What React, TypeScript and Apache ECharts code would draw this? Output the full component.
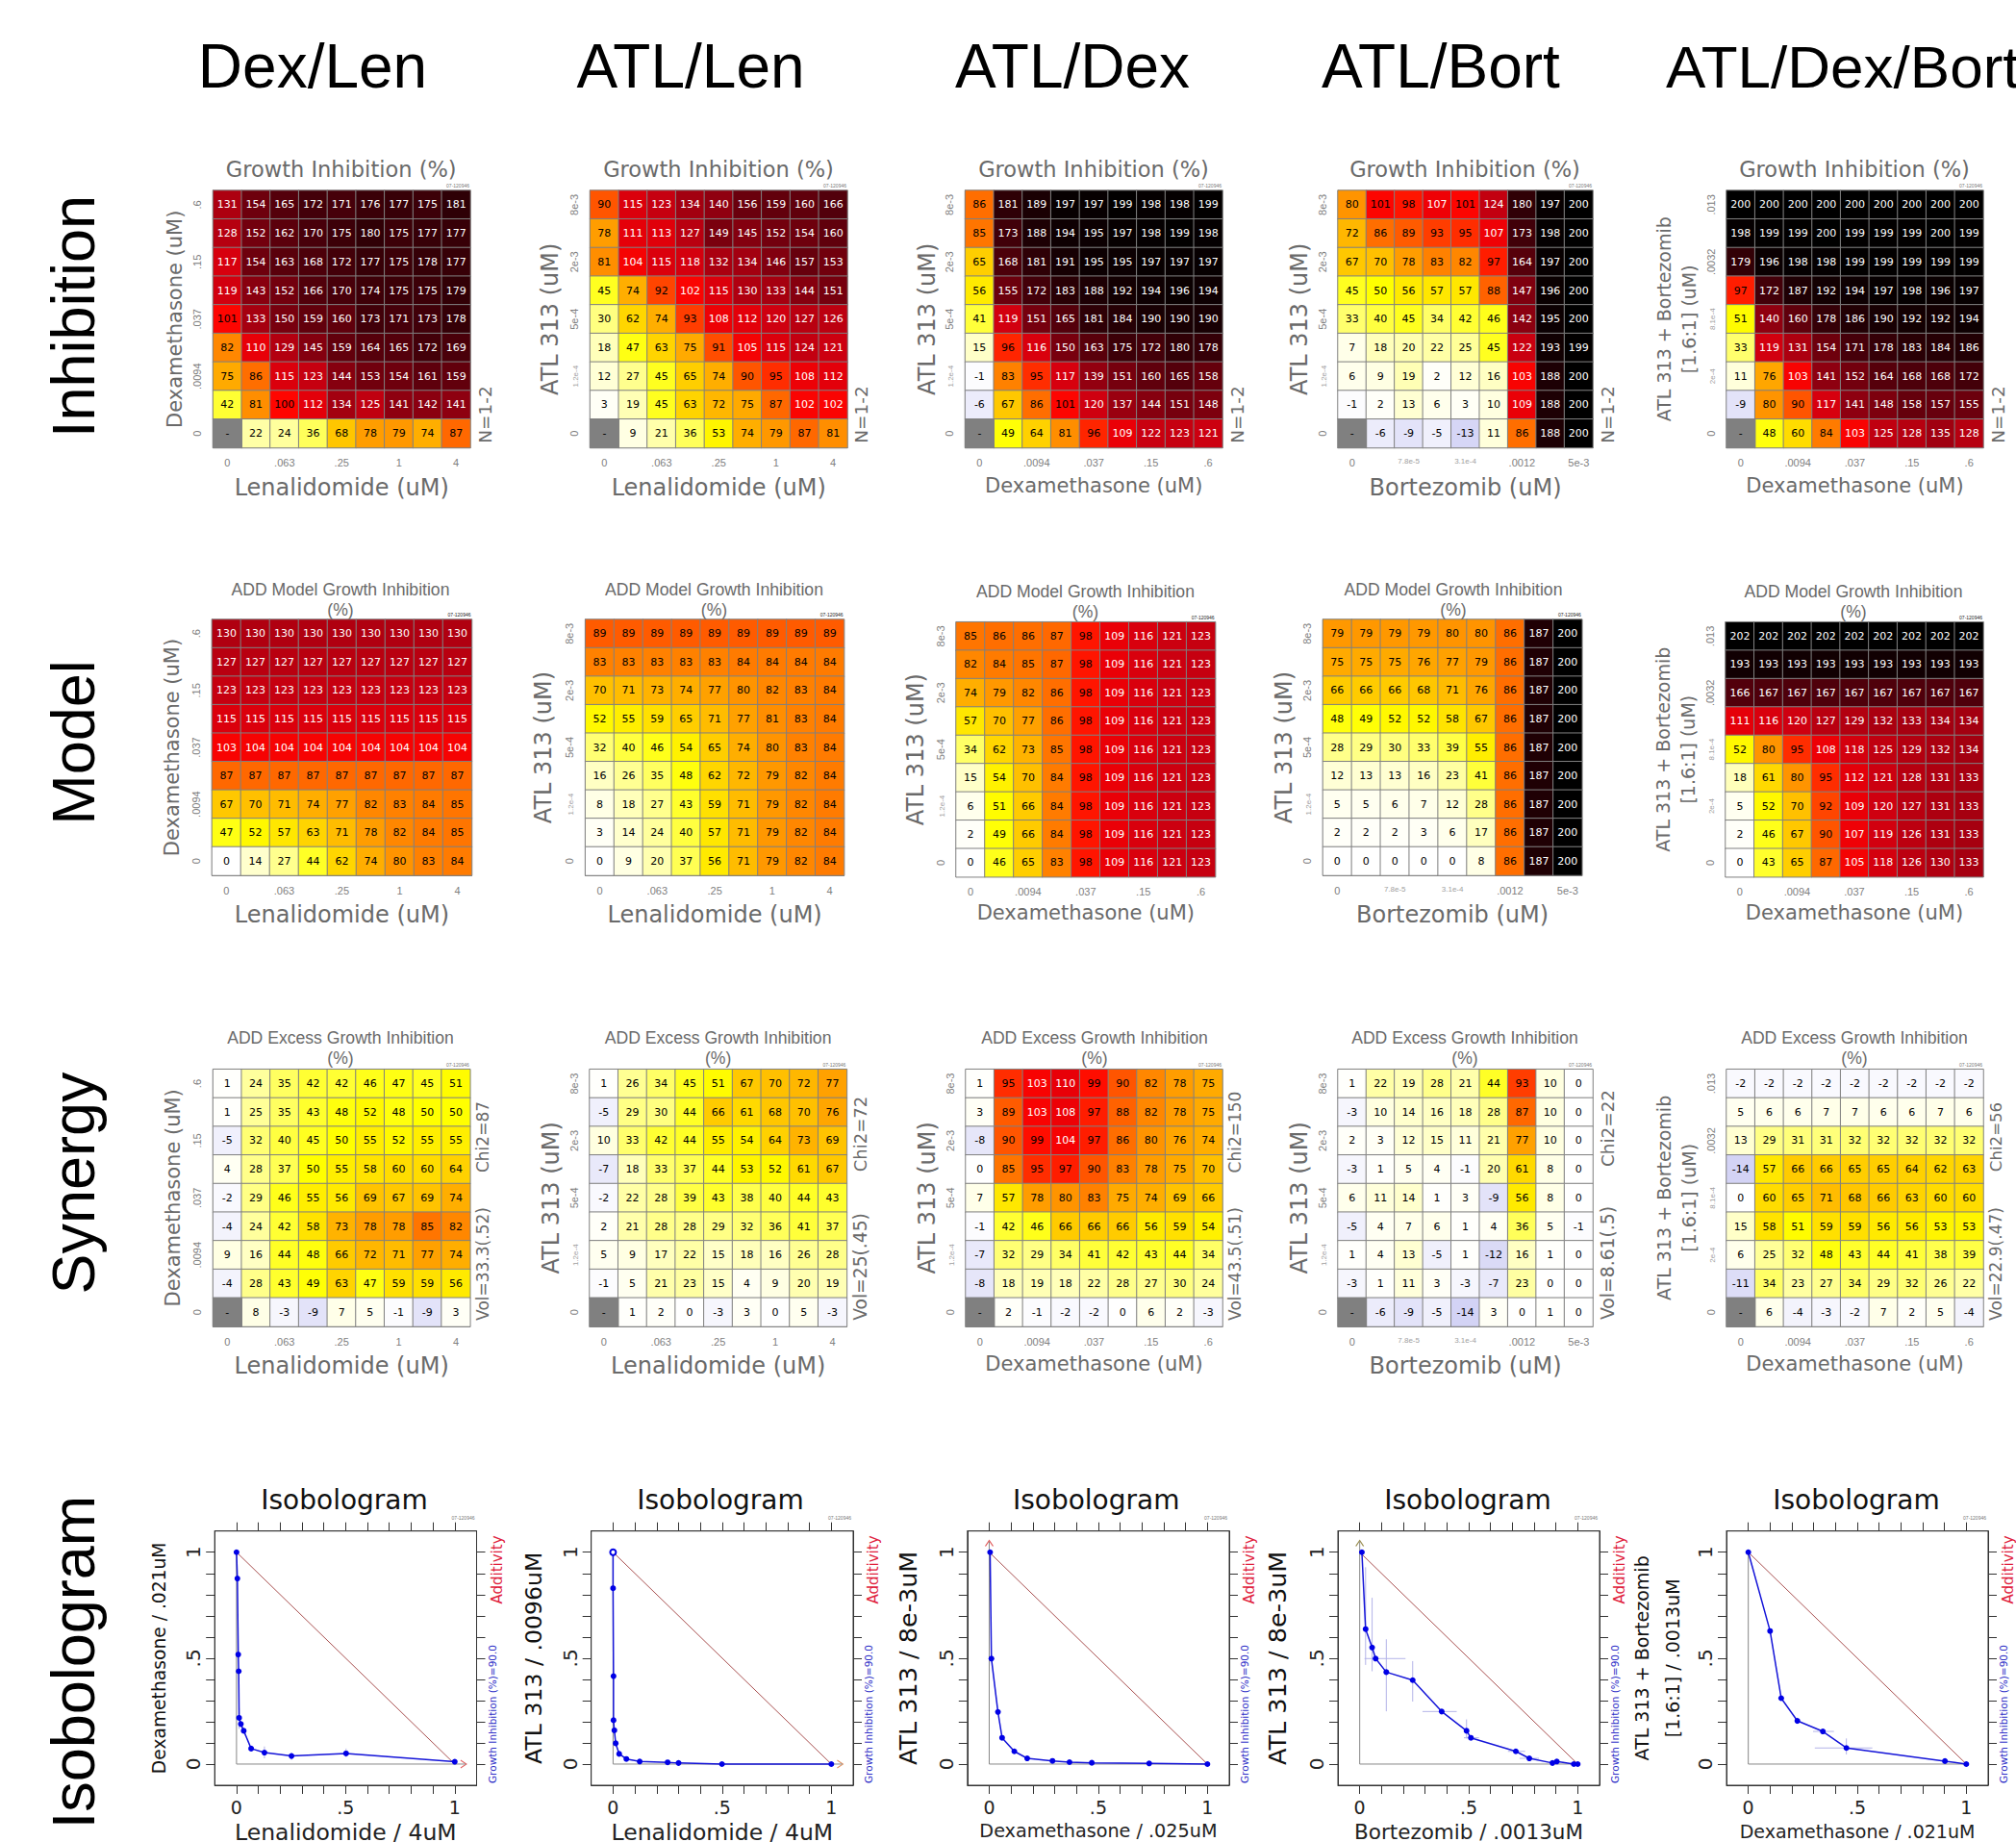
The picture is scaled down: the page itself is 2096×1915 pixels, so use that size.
import React, { useEffect, useRef } from "react";
import * as echarts from "echarts";

// ---------- labels ----------
const columnTitles = ["Dex/Len", "ATL/Len", "ATL/Dex", "ATL/Bort", "ATL/Dex/Bort"];
const rowTitles = ["Inhibition", "Model", "Synergy", "Isobologram"];
const xDrugNames = ["Lenalidomide (uM)", "Lenalidomide (uM)", "Dexamethasone (uM)", "Bortezomib (uM)", "Dexamethasone (uM)"];
const yDrugNames = ["Dexamethasone (uM)", "ATL 313 (uM)", "ATL 313 (uM)", "ATL 313 (uM)", "ATL 313 + Bortezomib\n[1.6:1] (uM)"];
const lenTicks = ["0", "", ".063", "", ".25", "", "1", "", "4"];
const dexTicks = ["0", "", ".0094", "", ".037", "", ".15", "", ".6"];
const atlTicks = ["0", "", "1.2e-4", "", "5e-4", "", "2e-3", "", "8e-3"];
const bortTicks = ["0", "", "7.8e-5", "", "3.1e-4", "", ".0012", "", "5e-3"];
const comboTicks = ["0", "", "2e-4", "", "8.1e-4", "", ".0032", "", ".013"];
const xTicks = [lenTicks, lenTicks, dexTicks, bortTicks, dexTicks];
const yTicks = [dexTicks, atlTicks, atlTicks, atlTicks, comboTicks];
const synergyNotes = [
  ["Chi2=87", "Vol=33.3(.52)"],
  ["Chi2=72", "Vol=25(.45)"],
  ["Chi2=150", "Vol=43.5(.51)"],
  ["Chi2=22", "Vol=8.61(.5)"],
  ["Chi2=56", "Vol=22.9(.47)"],
];
const isoXNames = ["Lenalidomide / 4uM", "Lenalidomide / 4uM", "Dexamethasone / .025uM", "Bortezomib / .0013uM", "Dexamethasone / .021uM"];
const isoYNames = ["Dexamethasone / .021uM", "ATL 313 / .0096uM", "ATL 313 / 8e-3uM", "ATL 313 / 8e-3uM", "ATL 313 + Bortezomib\n[1.6:1] / .0013uM"];

// ---------- heat map values, top row first ("-" = no value) ----------
const M = "-";
const inhibitionDexLen = [
  [131, 154, 165, 172, 171, 176, 177, 175, 181],
  [128, 152, 162, 170, 175, 180, 175, 177, 177],
  [117, 154, 163, 168, 172, 177, 175, 178, 177],
  [119, 143, 152, 166, 170, 174, 175, 175, 179],
  [101, 133, 150, 159, 160, 173, 171, 173, 178],
  [82, 110, 129, 145, 159, 164, 165, 172, 169],
  [75, 86, 115, 123, 144, 153, 154, 161, 159],
  [42, 81, 100, 112, 134, 125, 141, 142, 141],
  [M, 22, 24, 36, 68, 78, 79, 74, 87],
];
const inhibitionAtlLen = [
  [90, 115, 123, 134, 140, 156, 159, 160, 166],
  [78, 111, 113, 127, 149, 145, 152, 154, 160],
  [81, 104, 115, 118, 132, 134, 146, 157, 153],
  [45, 74, 92, 102, 115, 130, 133, 144, 151],
  [30, 62, 74, 93, 108, 112, 120, 127, 126],
  [18, 47, 63, 75, 91, 105, 115, 124, 121],
  [12, 27, 45, 65, 74, 90, 95, 108, 112],
  [3, 19, 45, 63, 72, 75, 87, 102, 102],
  [M, 9, 21, 36, 53, 74, 79, 87, 81],
];
const inhibitionAtlDex = [
  [86, 181, 189, 197, 197, 199, 198, 198, 199],
  [85, 173, 188, 194, 195, 197, 198, 199, 198],
  [65, 168, 181, 191, 195, 195, 197, 197, 197],
  [56, 155, 172, 183, 188, 192, 194, 196, 194],
  [41, 119, 151, 165, 181, 184, 190, 190, 190],
  [15, 96, 116, 150, 163, 175, 172, 180, 178],
  [-1, 83, 95, 117, 139, 151, 160, 165, 158],
  [-6, 67, 86, 101, 120, 137, 144, 151, 148],
  [M, 49, 64, 81, 96, 109, 122, 123, 121],
];
const inhibitionAtlBort = [
  [80, 101, 98, 107, 101, 124, 180, 197, 200],
  [72, 86, 89, 93, 95, 107, 173, 198, 200],
  [67, 70, 78, 83, 82, 97, 164, 197, 200],
  [45, 50, 56, 57, 57, 88, 147, 196, 200],
  [33, 40, 45, 34, 42, 46, 142, 195, 200],
  [7, 18, 20, 22, 25, 45, 122, 193, 199],
  [6, 9, 19, 2, 12, 16, 103, 188, 200],
  [-1, 2, 13, 6, 3, 10, 109, 188, 200],
  [M, -6, -9, -5, -13, 11, 86, 188, 200],
];
const inhibitionCombo = [
  [200, 200, 200, 200, 200, 200, 200, 200, 200],
  [198, 199, 199, 200, 199, 199, 199, 200, 199],
  [179, 196, 198, 198, 199, 199, 199, 199, 199],
  [97, 172, 187, 192, 194, 197, 198, 196, 197],
  [51, 140, 160, 178, 186, 190, 192, 192, 194],
  [33, 119, 131, 154, 171, 178, 183, 184, 186],
  [11, 76, 103, 141, 152, 164, 168, 168, 172],
  [-9, 80, 90, 117, 141, 148, 158, 157, 155],
  [M, 48, 60, 84, 103, 125, 128, 135, 128],
];
const modelDexLen = [
  [130, 130, 130, 130, 130, 130, 130, 130, 130],
  [127, 127, 127, 127, 127, 127, 127, 127, 127],
  [123, 123, 123, 123, 123, 123, 123, 123, 123],
  [115, 115, 115, 115, 115, 115, 115, 115, 115],
  [103, 104, 104, 104, 104, 104, 104, 104, 104],
  [87, 87, 87, 87, 87, 87, 87, 87, 87],
  [67, 70, 71, 74, 77, 82, 83, 84, 85],
  [47, 52, 57, 63, 71, 78, 82, 84, 85],
  [0, 14, 27, 44, 62, 74, 80, 83, 84],
];
const modelAtlLen = [
  [89, 89, 89, 89, 89, 89, 89, 89, 89],
  [83, 83, 83, 83, 83, 84, 84, 84, 84],
  [70, 71, 73, 74, 77, 80, 82, 83, 84],
  [52, 55, 59, 65, 71, 77, 81, 83, 84],
  [32, 40, 46, 54, 65, 74, 80, 83, 84],
  [16, 26, 35, 48, 62, 72, 79, 82, 84],
  [8, 18, 27, 43, 59, 71, 79, 82, 84],
  [3, 14, 24, 40, 57, 71, 79, 82, 84],
  [0, 9, 20, 37, 56, 71, 79, 82, 84],
];
const modelAtlDex = [
  [85, 86, 86, 87, 98, 109, 116, 121, 123],
  [82, 84, 85, 87, 98, 109, 116, 121, 123],
  [74, 79, 82, 86, 98, 109, 116, 121, 123],
  [57, 70, 77, 86, 98, 109, 116, 121, 123],
  [34, 62, 73, 85, 98, 109, 116, 121, 123],
  [15, 54, 70, 84, 98, 109, 116, 121, 123],
  [6, 51, 66, 84, 98, 109, 116, 121, 123],
  [2, 49, 66, 84, 98, 109, 116, 121, 123],
  [0, 46, 65, 83, 98, 109, 116, 121, 123],
];
const modelAtlBort = [
  [79, 79, 79, 79, 80, 80, 86, 187, 200],
  [75, 75, 75, 76, 77, 79, 86, 187, 200],
  [66, 66, 66, 68, 71, 76, 86, 187, 200],
  [48, 49, 52, 52, 58, 67, 86, 187, 200],
  [28, 29, 30, 33, 39, 55, 86, 187, 200],
  [12, 13, 13, 16, 23, 41, 86, 187, 200],
  [5, 5, 6, 7, 12, 28, 86, 187, 200],
  [2, 2, 2, 3, 6, 17, 86, 187, 200],
  [0, 0, 0, 0, 0, 8, 86, 187, 200],
];
const modelCombo = [
  [202, 202, 202, 202, 202, 202, 202, 202, 202],
  [193, 193, 193, 193, 193, 193, 193, 193, 193],
  [166, 167, 167, 167, 167, 167, 167, 167, 167],
  [111, 116, 120, 127, 129, 132, 133, 134, 134],
  [52, 80, 95, 108, 118, 125, 129, 132, 134],
  [18, 61, 80, 95, 112, 121, 128, 131, 133],
  [5, 52, 70, 92, 109, 120, 127, 131, 133],
  [2, 46, 67, 90, 107, 119, 126, 131, 133],
  [0, 43, 65, 87, 105, 118, 126, 130, 133],
];
const excessDexLen = [
  [1, 24, 35, 42, 42, 46, 47, 45, 51],
  [1, 25, 35, 43, 48, 52, 48, 50, 50],
  [-5, 32, 40, 45, 50, 55, 52, 55, 55],
  [4, 28, 37, 50, 55, 58, 60, 60, 64],
  [-2, 29, 46, 55, 56, 69, 67, 69, 74],
  [-4, 24, 42, 58, 73, 78, 78, 85, 82],
  [9, 16, 44, 48, 66, 72, 71, 77, 74],
  [-4, 28, 43, 49, 63, 47, 59, 59, 56],
  [M, 8, -3, -9, 7, 5, -1, -9, 3],
];
const excessAtlLen = [
  [1, 26, 34, 45, 51, 67, 70, 72, 77],
  [-5, 29, 30, 44, 66, 61, 68, 70, 76],
  [10, 33, 42, 44, 55, 54, 64, 73, 69],
  [-7, 18, 33, 37, 44, 53, 52, 61, 67],
  [-2, 22, 28, 39, 43, 38, 40, 44, 43],
  [2, 21, 28, 28, 29, 32, 36, 41, 37],
  [5, 9, 17, 22, 15, 18, 16, 26, 28],
  [-1, 5, 21, 23, 15, 4, 9, 20, 19],
  [M, 1, 2, 0, -3, 3, 0, 5, -3],
];
const excessAtlDex = [
  [1, 95, 103, 110, 99, 90, 82, 78, 75],
  [3, 89, 103, 108, 97, 88, 82, 78, 75],
  [-8, 90, 99, 104, 97, 86, 80, 76, 74],
  [0, 85, 95, 97, 90, 83, 78, 75, 70],
  [7, 57, 78, 80, 83, 75, 74, 69, 66],
  [-1, 42, 46, 66, 66, 66, 56, 59, 54],
  [-7, 32, 29, 34, 41, 42, 43, 44, 34],
  [-8, 18, 19, 18, 22, 28, 27, 30, 24],
  [M, 2, -1, -2, -2, 0, 6, 2, -3],
];
const excessAtlBort = [
  [1, 22, 19, 28, 21, 44, 93, 10, 0],
  [-3, 10, 14, 16, 18, 28, 87, 10, 0],
  [2, 3, 12, 15, 11, 21, 77, 10, 0],
  [-3, 1, 5, 4, -1, 20, 61, 8, 0],
  [6, 11, 14, 1, 3, -9, 56, 8, 0],
  [-5, 4, 7, 6, 1, 4, 36, 5, -1],
  [1, 4, 13, -5, 1, -12, 16, 1, 0],
  [-3, 1, 11, 3, -3, -7, 23, 0, 0],
  [M, -6, -9, -5, -14, 3, 0, 1, 0],
];
const excessCombo = [
  [-2, -2, -2, -2, -2, -2, -2, -2, -2],
  [5, 6, 6, 7, 7, 6, 6, 7, 6],
  [13, 29, 31, 31, 32, 32, 32, 32, 32],
  [-14, 57, 66, 66, 65, 65, 64, 62, 63],
  [0, 60, 65, 71, 68, 66, 63, 60, 60],
  [15, 58, 51, 59, 59, 56, 56, 53, 53],
  [6, 25, 32, 48, 43, 44, 41, 38, 39],
  [-11, 34, 23, 27, 34, 29, 32, 26, 22],
  [M, 6, -4, -3, -2, 7, 2, 5, -4],
];
const heatTables = [
  [inhibitionDexLen, inhibitionAtlLen, inhibitionAtlDex, inhibitionAtlBort, inhibitionCombo],
  [modelDexLen, modelAtlLen, modelAtlDex, modelAtlBort, modelCombo],
  [excessDexLen, excessAtlLen, excessAtlDex, excessAtlBort, excessCombo],
];

// ---------- isobologram values ----------
const isoDexLen = [[0, 1], [0.004, 0.876], [0.008, 0.517], [0.01, 0.438], [0.012, 0.218], [0.02, 0.189], [0.033, 0.157], [0.067, 0.073], [0.128, 0.054], [0.252, 0.038], [0.502, 0.05], [1, 0.011]];
const isoAtlLen = [[0, 1], [0, 0.83], [0.002, 0.415], [0.002, 0.207], [0.006, 0.159], [0.012, 0.098], [0.028, 0.048], [0.061, 0.024], [0.122, 0.012], [0.25, 0.008], [0.3, 0.005], [0.499, 0], [1, 0]];
const isoAtlDex = [[0.004, 1], [0.01, 0.498], [0.04, 0.246], [0.059, 0.124], [0.115, 0.06], [0.174, 0.027], [0.29, 0.015], [0.368, 0.009], [0.47, 0.006], [0.733, 0.003], [1, 0]];
const isoAtlBort = [[0.01, 1], [0.027, 0.637], [0.057, 0.55], [0.073, 0.498], [0.122, 0.434], [0.243, 0.396], [0.376, 0.248], [0.49, 0.157], [0.51, 0.124], [0.716, 0.06], [0.778, 0.027], [0.884, 0.005], [0.904, 0.012], [0.982, 0], [1, 0]];
const isoCombo = [[0, 1], [0.1, 0.628], [0.151, 0.311], [0.225, 0.204], [0.342, 0.154], [0.45, 0.076], [0.902, 0.014], [1, 0]];
const isoCurves = [isoDexLen, isoAtlLen, isoAtlDex, isoAtlBort, isoCombo];
// error bars: x1, y1, x2, y2
const errDexLen = [[0.012, 0.264, 0.012, 0.166], [0.128, 0.083, 0.128, 0.027], [0.252, 0.053, 0.252, 0.02], [0.502, 0.073, 0.502, 0.033], [1, 0.022, 1, 0]];
const errAtlLen: number[][] = [];
const errAtlDex: number[][] = [];
const errAtlBort = [[0.027, 0.929, 0.027, 0.468], [0.057, 0.785, 0.057, 0.438], [0.022, 0.498, 0.21, 0.498], [0.122, 0.589, 0.122, 0.249], [0.243, 0.486, 0.243, 0.295], [0.288, 0.248, 0.445, 0.248], [0.49, 0.211, 0.49, 0.121], [0.478, 0.124, 0.547, 0.124], [0.68, 0.06, 0.759, 0.06], [0.733, 0.027, 0.822, 0.027]];
const errCombo = [[0.225, 0.219, 0.225, 0.189], [0.297, 0.154, 0.393, 0.154], [0.45, 0.121, 0.45, 0.045], [0.305, 0.076, 0.569, 0.076], [0.902, 0.026, 0.902, 0.003]];
const isoErrors = [errDexLen, errAtlLen, errAtlDex, errAtlBort, errCombo];
const additivity = [[0, 1], [1, 0]];
const frameRight = [[0, 1], [0, 0], [1.05, 0]];
const frameUp = [[0, 1.05], [0, 0], [1, 0]];
const framePlain = [[0, 1], [0, 0], [1, 0]];
const isoFrames = [frameRight, frameRight, frameUp, frameUp, framePlain];
const arrowPoints = [[1.04, 0, -90], [1.04, 0, -90], [0, 1.042, 0], [0, 1.042, 0], null];
const arrowColors = ["#d83030", "#d87030", "#d83030", "#807020", "#d83030"];
const isoTicks = [0, 0.1, 0.2, 0.3, 0.4, 0.5, 0.6, 0.7, 0.8, 0.9, 1];
const isoLabels = [0, 0.5, 1];

// ---------- colour scale: stops every 10 from -20 to 210 ----------
const heatStops = ["#c0c0f0", "#e0e0f8", "#ffffff", "#ffffe0", "#ffffb0", "#ffff80", "#ffff40", "#ffff00", "#ffdc00", "#ffc000", "#ff9400", "#ff5500", "#ff0500", "#e80008", "#cf0010", "#b00010", "#900010", "#78000e", "#60000c", "#48000a", "#300006", "#180003", "#000000", "#000000"];

// ---------- layout ----------
const heatLefts = [[221.5, 613.5, 1003.5, 1391, 1795], [220.4, 608.6, 994, 1375.4, 1794], [221.5, 613, 1004, 1391, 1795]];
const heatRights = [[489, 881, 1271, 1656, 2062], [490.5, 877.6, 1263.6, 1644.8, 2062], [488.8, 880.4, 1271, 1656, 2062]];
const heatTops = [[198, 198, 198, 198, 198], [644, 644, 646.7, 644, 646.7], [1111.7, 1111.7, 1111.7, 1111.7, 1111.7]];
const heatBottoms = [[465.5, 465.5, 465.5, 465.5, 465.5], [910, 910, 911.7, 910, 911.7], [1379, 1379, 1379, 1379, 1379]];
const titleCenters = [[354.7, 747, 1137, 1523, 1928], [354, 742.5, 1128.5, 1511, 1927], [354, 746.6, 1138, 1523, 1928]];
const xNameSizes = [24, 24, 21, 24, 21];
const yNameSizes = [21, 24, 24, 24, 19];
const yNameTweaks = [[-2, 2, 0, 0, 0], [0, 4, 2, 0, 0], [0, 0, 0, 0, 0]];
const isoLefts = [223.2, 614.7, 1005.8, 1391, 1795];
const isoRights = [495.5, 887, 1278, 1663, 2067];
const isoTop = 1591.7;
const isoBottom = 1856;
const isoTitleCenters = [358, 749, 1139.7, 1526, 1930];
const isoXSizes = [23.5, 23.5, 19.2, 21.5, 19];
const isoXGaps = [37, 37, 38, 37, 38];
const isoYSizes = [18.7, 23.6, 25.5, 25.5, 19];
const isoYGaps = [42, 44, 46, 47, 40];
const colTitleX = [325, 718, 1115, 1498, 1732];
const colTitleSizes = [64, 64, 64, 64, 62];
const rowTitleY = [329, 772, 1230, 1728];
const chiCenters = [1182, 1179, 1177, 1173, 1182];
const volCenters = [1314, 1317, 1314, 1313, 1314];
const chiSizes = [17, 18, 17, 18.4, 16.6];
const volSizes = [17, 18.7, 17, 18.8, 17];
const noteX = [502, 894.6, 1284, 1671, 2075];
const nX = [504, 895, 1286, 1671, 2077];

const SANS = "'DejaVu Sans'";
const ARIAL = "'Liberation Sans'";
const GREY = "#6a6a6a";

function fmtIso(v: number) {
  return v === 0 ? "0" : v === 1 ? "1" : ".5";
}
function tickFmt(v: string) {
  return /^(1\.2e|7\.8e|3\.1e|2e-4|8\.1e)/.test(v) ? `{s|${v}}` : v;
}

function buildOption() {
  const grid: any[] = [];
  const xAxis: any[] = [];
  const yAxis: any[] = [];
  const series: any[] = [];
  const title: any[] = [];
  const graphic: any[] = [];
  const valueSeries: number[] = [];
  const blankSeries: number[] = [];

  const addText = (text: string, x: number, y: number, font: string, fill: string, rotation = 0, align = "center") => {
    graphic.push({
      type: "text", x, y, rotation, silent: true,
      style: { text, font, fill, textAlign: align, textVerticalAlign: "middle" },
    });
  };

  columnTitles.forEach((t, i) => addText(t, colTitleX[i], 69, `${colTitleSizes[i]}px ${ARIAL}`, "#000", 0, i === 4 ? "left" : "center"));
  rowTitles.forEach((t, i) => addText(t, 76, rowTitleY[i], `63px ${ARIAL}`, "#000", Math.PI / 2));

  heatTables.forEach((tables, r) => {
    tables.forEach((rows, c) => {
      const g = grid.length;
      const left = heatLefts[r][c];
      const right = heatRights[r][c];
      const top = heatTops[r][c];
      const bottom = heatBottoms[r][c];
      grid.push({ left, top, width: right - left, height: bottom - top, show: false, outerBoundsMode: "none" });
      const tickStyle = { color: "#808080", width: 1 };
      const isDex = c === 2 || c === 4;
      xAxis.push({
        type: "category", gridIndex: g, data: xTicks[c], position: "bottom",
        name: xDrugNames[c], nameLocation: "middle",
        nameGap: 41 - xNameSizes[c] / 2 - (isDex ? 2 : 0) - (r === 1 && isDex ? 2 : 0),
        nameTextStyle: { fontFamily: SANS, fontSize: xNameSizes[c], color: GREY },
        axisLine: { lineStyle: { color: "#808080" } },
        axisTick: { alignWithLabel: true, interval: 0, length: 8, lineStyle: tickStyle },
        axisLabel: { interval: 0, margin: 10, hideOverlap: false, fontFamily: ARIAL, fontSize: 11, color: "#808080", formatter: tickFmt, rich: { s: { fontSize: 8, color: "#a0a0a0", fontFamily: ARIAL } } },
        splitLine: { show: false },
      });
      yAxis.push({
        type: "category", gridIndex: g, data: yTicks[c], position: "left",
        name: yDrugNames[c], nameLocation: "middle",
        nameGap: (c === 4 ? 26 : 39 - yNameSizes[c] / 2) + yNameTweaks[r][c],
        nameTextStyle: { fontFamily: SANS, fontSize: yNameSizes[c], color: GREY, lineHeight: 26 },
        axisLine: { lineStyle: { color: "#808080" } },
        axisTick: { alignWithLabel: true, interval: 0, length: 8, lineStyle: tickStyle },
        axisLabel: { interval: 0, margin: 11, rotate: 90, hideOverlap: false, fontFamily: ARIAL, fontSize: 11, color: "#808080", formatter: tickFmt, rich: { s: { fontSize: 8, color: "#a0a0a0", fontFamily: ARIAL } } },
        splitLine: { show: false },
      });
      const data: any[] = [];
      const blanks: any[] = [];
      rows.forEach((row, ri) => {
        row.forEach((v, ci) => {
          const yi = rows.length - 1 - ri;
          if (v === M) blanks.push([ci, yi, 0]);
          else data.push({ value: [ci, yi, v], label: { color: (v as number) >= 102 ? "#ffffff" : "#000000" } });
        });
      });
      const cellStyle = { borderColor: "#808080", borderWidth: 1 };
      const labelBase = { show: true, fontFamily: SANS, fontSize: 11 };
      valueSeries.push(series.length);
      series.push({
        type: "heatmap", xAxisIndex: g, yAxisIndex: g, data,
        itemStyle: cellStyle,
        label: { ...labelBase, formatter: (p: any) => String(p.value[2]) },
      });
      if (blanks.length) {
        blankSeries.push(series.length);
        series.push({
          type: "heatmap", xAxisIndex: g, yAxisIndex: g, data: blanks,
          itemStyle: cellStyle,
          label: { ...labelBase, color: "#000", formatter: () => "-" },
        });
      }
      // titles and side notes
      const cx = titleCenters[r][c];
      if (r === 0) {
        title.push({ text: "Growth Inhibition (%)", left: cx, top: 162, textAlign: "center", padding: 0, textStyle: { fontFamily: SANS, fontSize: 22.5, fontWeight: "normal", color: GREY, lineHeight: 28 } });
        addText("N=1-2", nX[c], 431, `18.5px ${SANS}`, GREY, Math.PI / 2);
      } else {
        const yTop = r === 1 ? (isDex ? 604 : 602) : 1068;
        const headline = r === 1 ? "ADD Model Growth Inhibition" : "ADD Excess Growth Inhibition";
        title.push({ text: `${headline}\n(%)`, left: cx, top: yTop, textAlign: "center", padding: 0, textStyle: { fontFamily: ARIAL, fontSize: 17.6, fontWeight: "normal", color: GREY, lineHeight: 21 } });
      }
      if (r === 2) {
        addText(synergyNotes[c][0], noteX[c], chiCenters[c], `${chiSizes[c]}px ${SANS}`, GREY, Math.PI / 2);
        addText(synergyNotes[c][1], noteX[c], volCenters[c], `${volSizes[c]}px ${SANS}`, GREY, Math.PI / 2);
      }
      addText("07-120946", right - 1, top - 5, `5px ${ARIAL}`, r === 1 ? "#222" : "#777", 0, "right");
    });
  });

  isoCurves.forEach((curve, c) => {
    const g = grid.length;
    const left = isoLefts[c];
    const right = isoRights[c];
    grid.push({ left, top: isoTop, width: right - left, height: isoBottom - isoTop, show: true, borderColor: "#333", borderWidth: 1, backgroundColor: "transparent", outerBoundsMode: "none" });
    const tick = (len: number) => ({ show: true, customValues: isoTicks, length: len, lineStyle: { color: "#333", width: 1 } });
    const baseX = {
      type: "value", gridIndex: g, min: -0.1, max: 1.1, splitLine: { show: false },
      axisLine: { show: true, onZero: false, lineStyle: { color: "#333" } },
    };
    const firstX = xAxis.length;
    xAxis.push({
      ...baseX, position: "bottom", name: isoXNames[c], nameLocation: "middle", nameGap: isoXGaps[c],
      nameTextStyle: { fontFamily: SANS, fontSize: isoXSizes[c], color: "#222" },
      axisTick: tick(9),
      axisLabel: { show: true, customValues: isoLabels, margin: 13, fontFamily: SANS, fontSize: 19, color: "#222", formatter: fmtIso },
    });
    xAxis.push({ ...baseX, position: "top", axisTick: tick(9), axisLabel: { show: false } });
    const firstY = yAxis.length;
    yAxis.push({
      ...baseX, position: "left", name: isoYNames[c], nameLocation: "middle", nameGap: isoYGaps[c],
      nameTextStyle: { fontFamily: SANS, fontSize: isoYSizes[c], color: "#111", lineHeight: 32 },
      axisTick: tick(9),
      axisLabel: { show: true, customValues: isoLabels, rotate: 90, margin: 12, fontFamily: SANS, fontSize: 20, color: "#222", formatter: fmtIso },
    });
    yAxis.push({ ...baseX, position: "right", axisTick: tick(9), axisLabel: { show: false } });
    const axes = { xAxisIndex: firstX, yAxisIndex: firstY };
    series.push({ type: "line", ...axes, data: isoFrames[c], symbol: "none", lineStyle: { color: "#888", width: 1 } });
    series.push({ type: "line", ...axes, data: additivity, symbol: "none", lineStyle: { color: "#a85050", width: 1 } });
    const errs = isoErrors[c];
    if (errs.length) {
      series.push({
        type: "custom", ...axes, data: errs, encode: { x: [0, 2], y: [1, 3] },
        renderItem: (_: any, api: any) => {
          const a = api.coord([api.value(0), api.value(1)]);
          const b = api.coord([api.value(2), api.value(3)]);
          return { type: "line", shape: { x1: a[0], y1: a[1], x2: b[0], y2: b[1] }, style: { stroke: "#b4b4e8", lineWidth: 1 } };
        },
      });
    }
    series.push({
      type: "line", ...axes,
      data: curve.map((p, i) => (c === 1 && i === 0 ? { value: p, symbol: "emptyCircle" } : p)),
      symbol: "circle", symbolSize: 6, showAllSymbol: true,
      lineStyle: { color: "#1414d8", width: 1.5 }, itemStyle: { color: "#0000e6" },
    });
    const arrow = arrowPoints[c];
    if (arrow) {
      series.push({
        type: "scatter", ...axes, data: [[arrow[0], arrow[1]]],
        symbol: "path://M0,10L5,0L10,10", symbolSize: [8, 6], symbolRotate: arrow[2],
        itemStyle: { color: "none", borderColor: arrowColors[c], borderWidth: 1 },
      });
    }
    title.push({ text: "Isobologram", left: isoTitleCenters[c], top: 1541, textAlign: "center", padding: 0, textStyle: { fontFamily: SANS, fontSize: 28, fontWeight: "normal", color: "#111", lineHeight: 36 } });
    addText("Additivity", right + 21, 1632, `15px ${SANS}`, "#e0203c", Math.PI / 2);
    addText("Growth Inhibition (%)=90.0", right + 16, 1782, `10.5px ${SANS}`, "#3030c8", Math.PI / 2);
    addText("07-120946", right - 2, 1578, `5px ${ARIAL}`, "#777", 0, "right");
  });

  return {
    animation: false,
    backgroundColor: "#ffffff",
    grid, xAxis, yAxis, series, title, graphic,
    visualMap: [
      { type: "continuous", show: false, min: -20, max: 210, dimension: 2, seriesIndex: valueSeries, inRange: { color: heatStops } },
      { type: "continuous", show: false, min: 0, max: 1, dimension: 2, seriesIndex: blankSeries, inRange: { color: ["#808080", "#808080"] } },
    ],
  };
}

export default function App() {
  const ref = useRef<HTMLDivElement>(null);
  useEffect(() => {
    const chart = echarts.init(ref.current!, undefined, { renderer: "svg" });
    chart.setOption(buildOption() as any);
    return () => chart.dispose();
  }, []);
  return <div ref={ref} style={{ position: "fixed", left: 0, top: 0, width: 2096, height: 1915 }} />;
}
